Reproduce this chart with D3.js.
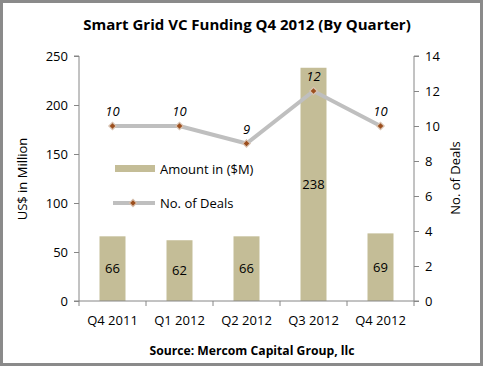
<!DOCTYPE html>
<html><head><meta charset="utf-8">
<script src="https://cdn.jsdelivr.net/npm/d3@7"></script>
<style>
html,body{margin:0;padding:0;background:#fff;}
svg text{font-family:"Open Sans","DejaVu Sans",sans-serif;}
</style></head>
<body>
<script>
const categories = ["Q4 2011","Q1 2012","Q2 2012","Q3 2012","Q4 2012"];
const amounts = [66, 62, 66, 238, 69];
const deals = [10, 10, 9, 12, 10];
const leftTicks = [0,50,100,150,200,250];
const rightTicks = [0,2,4,6,8,10,12,14];

const W = 483, H = 366;
const svg = d3.select("body").append("svg").attr("width", W).attr("height", H);
svg.append("rect").attr("x",1.5).attr("y",1.5).attr("width",W-3).attr("height",H-3)
  .attr("fill","#fff").attr("stroke","#8a8a8a").attr("stroke-width",3);

const pL = 79, pR = 414, pT = 56, pB = 301;
const xb = d3.scaleBand().domain(categories).range([pL, pR]);
const yL = d3.scaleLinear().domain([0,250]).range([pB, pT]);
const yR = d3.scaleLinear().domain([0,14]).range([pB, pT]);
const axisColor = "#868686";
const cx = (d,i)=> xb(categories[i]) + xb.bandwidth()/2;

// bars
svg.append("g").selectAll("rect").data(amounts).join("rect")
  .attr("x",(d,i)=>cx(d,i) - 13)
  .attr("width",26)
  .attr("y",d=>yL(d)).attr("height",d=>pB - yL(d))
  .attr("fill","#C4BD97");
svg.append("g").selectAll("text").data(amounts).join("text")
  .attr("x",cx)
  .attr("y",d=>(yL(d)+pB)/2 + 4.5)
  .attr("text-anchor","middle").attr("font-size",13).attr("fill","#000")
  .text(d=>d);

// axes
const gL = svg.append("g").attr("transform",`translate(${pL},0)`)
  .call(d3.axisLeft(yL).tickValues(leftTicks).tickSize(5).tickPadding(6));
const gR = svg.append("g").attr("transform",`translate(${pR},0)`)
  .call(d3.axisRight(yR).tickValues(rightTicks).tickSize(5).tickPadding(6));
const gX = svg.append("g").attr("transform",`translate(0,${pB})`)
  .call(d3.axisBottom(xb).tickSize(0).tickPadding(15));
svg.append("g").selectAll("line").data(d3.range(categories.length+1)).join("line")
  .attr("x1",i=> pL + i*xb.step()).attr("x2",i=> pL + i*xb.step())
  .attr("y1",pB).attr("y2",pB+5).attr("stroke",axisColor);
[gL,gR,gX].forEach(g=>{
  g.select(".domain").attr("stroke",axisColor);
  g.selectAll(".tick line").attr("stroke",axisColor);
  g.selectAll(".tick text").attr("font-size",13).attr("fill","#000")
   .attr("font-family",'"Open Sans",sans-serif');
});
gL.select(".domain").attr("d",`M-5,${pT}H0V${pB}H-5`);
gR.select(".domain").attr("d",`M5,${pT}H0V${pB}H5`);
gX.select(".domain").attr("d",`M${pL},0H${pR}`);

// line
svg.append("path").datum(deals)
  .attr("d", d3.line().x(cx).y(d=>yR(d)))
  .attr("fill","none").attr("stroke","#BFBFBF").attr("stroke-width",4);
const marker = sel => sel.append("rect").attr("x",-2.6).attr("y",-2.6).attr("width",5.2).attr("height",5.2)
  .attr("fill","#9C4F1E").attr("stroke","#d8c3b2").attr("stroke-width",1.2);
svg.append("g").selectAll("g").data(deals).join("g")
  .attr("transform",(d,i)=>`translate(${cx(d,i)},${yR(d)}) rotate(45)`)
  .call(marker);
svg.append("g").selectAll("text").data(deals).join("text")
  .attr("x",cx).attr("y",d=>yR(d)-10)
  .attr("text-anchor","middle").attr("font-size",13).attr("font-style","italic")
  .text(d=>d);

// legend
const lg = svg.append("g");
lg.append("rect").attr("x",115).attr("y",165).attr("width",40).attr("height",7).attr("fill","#C4BD97");
lg.append("text").attr("x",160).attr("y",174).attr("font-size",13).text("Amount in ($M)");
lg.append("line").attr("x1",113).attr("x2",155).attr("y1",203).attr("y2",203)
  .attr("stroke","#BFBFBF").attr("stroke-width",4);
lg.append("g").attr("transform","translate(133,203) rotate(45)").call(marker);
lg.append("text").attr("x",160).attr("y",208).attr("font-size",13).text("No. of Deals");

// titles
svg.append("text").attr("x",247).attr("y",30).attr("text-anchor","middle")
  .attr("font-size",15).attr("font-weight","bold").text("Smart Grid VC Funding Q4 2012 (By Quarter)");
svg.append("text").attr("transform","translate(27,179) rotate(-90)").attr("text-anchor","middle")
  .attr("font-size",13).text("US$ in Million");
svg.append("text").attr("transform","translate(460,178) rotate(-90)").attr("text-anchor","middle")
  .attr("font-size",13).text("No. of Deals");
svg.append("text").attr("x",252).attr("y",355).attr("text-anchor","middle")
  .attr("font-size",12.2).attr("font-weight","bold").text("Source: Mercom Capital Group, llc");
</script>
</body></html>
